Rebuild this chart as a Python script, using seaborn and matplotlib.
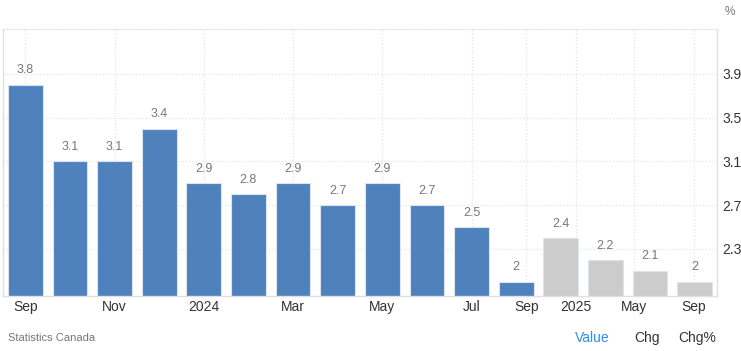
import matplotlib.pyplot as plt
import pandas as pd
import seaborn as sns

# Canada inflation rate, % (blue = actual, grey = forecast)
periods = ["2023-09", "2023-10", "2023-11", "2023-12", "2024-01", "2024-02",
           "2024-03", "2024-04", "2024-05", "2024-06", "2024-07", "2024-08",
           "2024-Q4", "2025-Q1", "2025-Q2", "2025-Q3"]
values = [3.8, 3.1, 3.1, 3.4, 2.9, 2.8, 2.9, 2.7, 2.9, 2.7, 2.5, 2.0,
          2.4, 2.2, 2.1, 2.0]
kinds = ["Actual"] * 12 + ["Forecast"] * 4

tick_pos = [0, 2, 4, 6, 8, 10, 11.23, 12.33, 13.65, 14.98]
tick_labels = ["Sep", "Nov", "2024", "Mar", "May", "Jul", "Sep", "2025", "May", "Sep"]
y_ticks = [2.3, 2.7, 3.1, 3.5, 3.9]

df = pd.DataFrame({"period": periods, "value": values, "kind": kinds})

sns.set_style("white")
plt.rcParams["font.family"] = ["Liberation Sans", "DejaVu Sans"]

fig = plt.figure(figsize=(7.41, 3.51), dpi=100)
ax = fig.add_axes([3 / 741, 55 / 351, 714 / 741, 267 / 351])

sns.barplot(data=df, x="period", y="value", hue="kind", dodge=False,
            palette={"Actual": "#4f81bd", "Forecast": "#cccccc"}, saturation=1,
            width=0.78, edgecolor="#dde4ee", linewidth=0.8, legend=False, ax=ax)

for i, v in enumerate(values):
    label = f"{v:g}"
    ax.annotate(label, (i, v), xytext=(0, 6), textcoords="offset points",
                ha="center", va="bottom", fontsize=9, color="#777777")

ax.set_xlim(-0.5, 15.5)
ax.set_ylim(1.87, 4.31)
ax.set_xticks(tick_pos)
ax.set_xticklabels(tick_labels)
ax.set_yticks(y_ticks)
ax.set_yticklabels([f"{t:g}" for t in y_ticks])
ax.yaxis.tick_right()
ax.tick_params(axis="x", length=0, pad=3, labelsize=10, labelcolor="#333333")
ax.tick_params(axis="y", length=0, pad=4, labelsize=10, labelcolor="#333333")
ax.set_xlabel("")
ax.set_ylabel("")

ax.grid(True, color="#e3e3e3", linestyle=":", linewidth=0.9)
ax.set_axisbelow(True)
for side in ["left", "right", "bottom"]:
    ax.spines[side].set_color("#e0e0e0")
    ax.spines[side].set_linewidth(1)
ax.spines["top"].set_color("#e3e3e3")
ax.spines["top"].set_linestyle(":")

fig.text(725 / 741, 1 - 12 / 351, "%", fontsize=8.5, color="#777777", va="center")
fig.text(8 / 741, 1 - 338 / 351, "Statistics Canada", fontsize=8, color="#777777", va="center")
fig.text(592 / 741, 1 - 338 / 351, "Value", fontsize=10, color="#2a8ff2", va="center", ha="center")
fig.text(647 / 741, 1 - 338 / 351, "Chg", fontsize=10, color="#333333", va="center", ha="center")
fig.text(697 / 741, 1 - 338 / 351, "Chg%", fontsize=10, color="#333333", va="center", ha="center")

fig.savefig("out.png", dpi=100)
